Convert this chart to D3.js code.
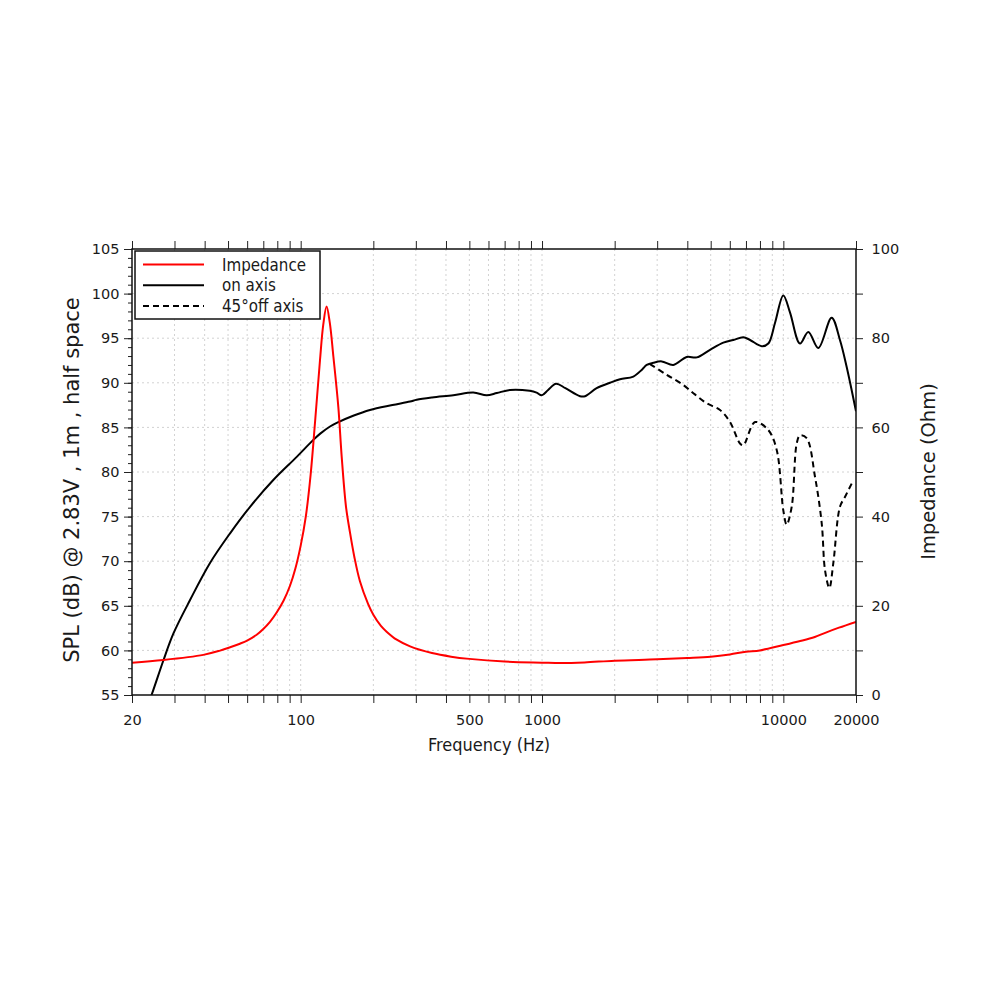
<!DOCTYPE html>
<html><head><meta charset="utf-8">
<script src="https://cdn.jsdelivr.net/npm/d3@7"></script>
<style>body{margin:0;background:#fff}</style>
</head><body>
<svg id="c" width="1000" height="1000"></svg>
<script>
// ---------- data ----------
const impFreq = [20,27,39.5,46,51,56,60,65.7,70,74.6,79.5,85,90.3,95,100,105,110,115,120.2,124,128,132,136.6,143.2,147.9,154.1,160,166.8,176,190,200,215,227,250,284,350,420,500,700,1000,1200,1500,2000,3000,4000,5000,6000,7000,8000,10000,12000,13500,15000,17000,20000];
const impOhm  = [7.25,7.85,9.0,9.9,10.7,11.5,12.2,13.5,14.8,16.4,18.5,21.2,24.5,28.3,33.5,40,49.5,62,75,83,87.1,83.5,75.9,64.6,53.4,42.2,36.5,31,25.5,20.5,18.0,15.5,14.2,12.4,10.9,9.4,8.6,8.1,7.5,7.25,7.15,7.3,7.7,8.0,8.3,8.6,9.1,9.7,10.0,11.2,12.2,13.0,14.0,15.1,16.4];

const onFreq = [23,24.1,27,29.7,34.8,42.1,50.9,61.7,77,96.3,112.8,120.5,132.3,141,165,193.7,240,283.8,302.5,350,429,519,590,650,737,889,950,997,1060,1143,1250,1437,1508,1684,1913,2105,2390,2600,2716,2892,3133,3500,3977,4375,4966,5640,6203,6826,7278,8139,8663,9233,9996,10652,11720,12689,13960,15850,17160,18290,20000];
const onSpl  = [53.6,55,58.9,61.9,65.65,69.8,73.1,76.1,79.1,81.7,83.6,84.3,85.1,85.5,86.3,86.95,87.5,87.9,88.1,88.35,88.6,88.9,88.6,88.85,89.2,89.1,88.9,88.6,89.2,89.9,89.4,88.5,88.5,89.4,90.0,90.4,90.7,91.5,92.0,92.25,92.4,92.0,92.9,92.85,93.7,94.5,94.8,95.1,94.8,94.1,94.4,96.7,99.8,97.9,94.4,95.7,93.9,97.3,94.8,91.8,86.8];

const offFreq = [2800,3285,3851,4300,4815,5465,6012,6612,6826,7634,8663,9381,9996,10320,10830,11360,11720,12490,13520,14420,14880,15510,16110,17160,18000,19190];
const offSpl  = [92.1,90.9,89.75,88.7,87.7,86.95,85.6,83.2,83.0,85.6,84.7,82.5,75.7,74.1,76.1,83.2,84.1,83.8,79.5,74.25,69.0,67.0,69.8,76.1,77.2,78.7];

const freqLabels = [20,100,500,1000,10000,20000];
const splTicks = [55,60,65,70,75,80,85,90,95,100,105];
const ohmTicks = [0,10,20,30,40,50,60,70,80,90,100];
const ohmLabels = [0,20,40,60,80,100];

const legendItems = [
  {label:"Impedance", color:"#ff0000", dash:null},
  {label:"on axis", color:"#000000", dash:null},
  {label:"45°off axis", color:"#000000", dash:"6,4"}
];

// ---------- layout ----------
const L=132, R=856, T=249, B=695;
const svg = d3.select("#c");
const x = d3.scaleLog().domain([20,20000]).range([L,R]);
const yL = d3.scaleLinear().domain([55,105]).range([B,T]);
const yR = d3.scaleLinear().domain([0,100]).range([B,T]);
const tickFont = "DejaVu Sans, sans-serif";
const condFont = "'DejaVu Sans Condensed', 'DejaVu Sans', sans-serif";

// grid
const g = svg.append("g");
x.ticks().filter(d=>d>20 && d<20000).forEach(d=>{
  g.append("line").attr("x1",x(d)).attr("x2",x(d)).attr("y1",T).attr("y2",B)
   .attr("stroke","#d2d2d2").attr("stroke-width",1).attr("stroke-dasharray","2,3");
});
splTicks.filter(d=>d>55 && d<105).forEach(d=>{
  g.append("line").attr("x1",L).attr("x2",R).attr("y1",yL(d)).attr("y2",yL(d))
   .attr("stroke","#d2d2d2").attr("stroke-width",1).attr("stroke-dasharray","2,3");
});

// axes
function styleAxis(sel){
  sel.select(".domain").remove();
  sel.selectAll("line").attr("stroke","#222").attr("stroke-width",1);
  sel.selectAll("text").attr("font-family",tickFont).attr("font-size","14.5px").attr("fill","#1a1a1a");
}
svg.append("g").attr("transform",`translate(${L},0)`)
  .call(d3.axisLeft(yL).tickValues(d3.range(55,106,1)).tickSize(4).tickFormat(""))
  .call(styleAxis);
svg.append("g").attr("transform",`translate(${L},0)`)
  .call(d3.axisLeft(yL).tickValues(splTicks).tickSize(8).tickPadding(4.5).tickFormat(d3.format("d")))
  .call(styleAxis);
svg.append("g").attr("transform",`translate(0,${B})`)
  .call(d3.axisBottom(x).tickValues(x.ticks()).tickSize(8).tickPadding(11.5)
    .tickFormat(d=>freqLabels.includes(d)?String(d):""))
  .call(styleAxis);
svg.append("g").attr("transform",`translate(0,${T})`)
  .call(d3.axisTop(x).tickValues(x.ticks()).tickSize(8).tickFormat(""))
  .call(styleAxis);
svg.append("g").attr("transform",`translate(${R},0)`)
  .call(d3.axisRight(yR).tickValues(ohmTicks).tickSize(7).tickPadding(8.5)
    .tickFormat(d=>ohmLabels.includes(d)?String(d):""))
  .call(styleAxis);

// clip
svg.append("clipPath").attr("id","clip").append("rect")
  .attr("x",L).attr("y",T).attr("width",R-L).attr("height",B-T);
const plot = svg.append("g").attr("clip-path","url(#clip)");

const lineImp = d3.line().x((d,i)=>x(impFreq[i])).y((d,i)=>yR(impOhm[i])).curve(d3.curveCatmullRom.alpha(0.5));
const lineOn = d3.line().x((d,i)=>x(onFreq[i])).y((d,i)=>yL(onSpl[i])).curve(d3.curveCatmullRom.alpha(0.5));
const lineOff = d3.line().x((d,i)=>x(offFreq[i])).y((d,i)=>yL(offSpl[i])).curve(d3.curveCatmullRom.alpha(0.5));

plot.append("path").attr("d",lineOff(offFreq)).attr("fill","none").attr("stroke","#000")
  .attr("stroke-width",2).attr("stroke-dasharray","6,4");
plot.append("path").attr("d",lineOn(onFreq)).attr("fill","none").attr("stroke","#000").attr("stroke-width",2);
plot.append("path").attr("d",lineImp(impFreq)).attr("fill","none").attr("stroke","#ff0000").attr("stroke-width",2);

// frame
svg.append("rect").attr("x",L).attr("y",T).attr("width",R-L).attr("height",B-T)
  .attr("fill","none").attr("stroke","#111").attr("stroke-width",1.5);

// legend
const lg = svg.append("g");
lg.append("rect").attr("x",135).attr("y",251).attr("width",185).attr("height",68)
  .attr("fill","#fff").attr("stroke","#111").attr("stroke-width",1.5);
legendItems.forEach((it,i)=>{
  const yy = 264.5 + i*20.8;
  lg.append("line").attr("x1",143).attr("x2",204).attr("y1",yy).attr("y2",yy)
    .attr("stroke",it.color).attr("stroke-width",2).attr("stroke-dasharray",it.dash);
  lg.append("text").attr("x",222).attr("y",yy+6).text(it.label)
    .attr("font-family",condFont).attr("font-size","16.8px").attr("fill","#1a1a1a");
});

// titles
svg.append("text").attr("x",489).attr("y",751).attr("text-anchor","middle")
  .attr("font-family",condFont).attr("font-size","18px").attr("fill","#1a1a1a").text("Frequency (Hz)");
svg.append("text").attr("transform","translate(79,480) rotate(-90)").attr("text-anchor","middle")
  .attr("font-family",tickFont).attr("font-size","21px").attr("fill","#1a1a1a")
  .text("SPL (dB) @ 2.83V , 1m , half space");
svg.append("text").attr("transform","translate(935,471.5) rotate(-90)").attr("text-anchor","middle")
  .attr("font-family",tickFont).attr("font-size","19.5px").attr("fill","#1a1a1a")
  .text("Impedance (Ohm)");
</script>
</body></html>
